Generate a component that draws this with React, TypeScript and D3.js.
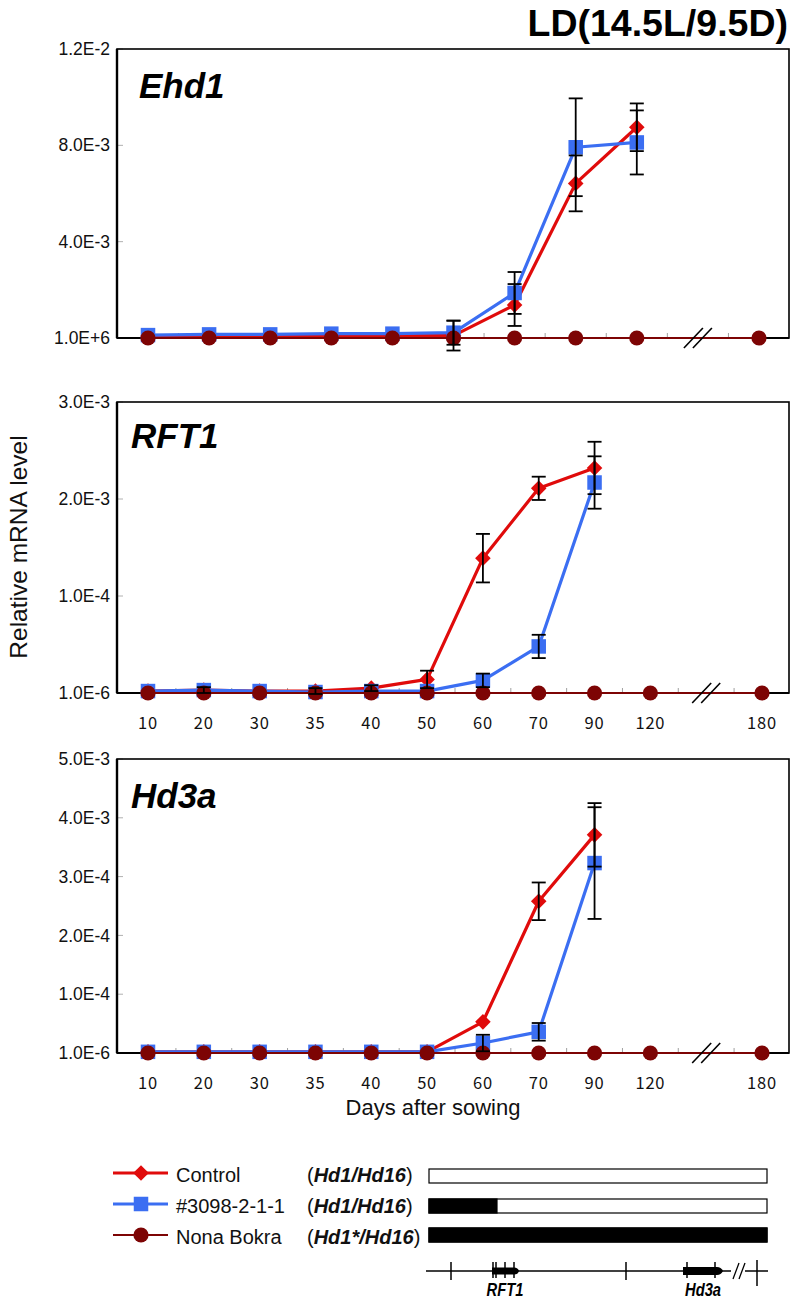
import React from "react";
import * as d3 from "d3";

// ---------- data ----------
const EHD1_SLOTS = ["10", "20", "30", "35", "40", "50", "60", "70", "90", "//", "180"];
const SLOTS = ["10", "20", "30", "35", "40", "50", "60", "70", "90", "120", "//", "180"];
const RISE_DAYS = ["10", "20", "30", "35", "40", "50", "60", "70", "90"];
const NB_DAYS_EHD1 = ["10", "20", "30", "35", "40", "50", "60", "70", "90", "180"];
const NB_DAYS = ["10", "20", "30", "35", "40", "50", "60", "70", "90", "120", "180"];

// Ehd1 (tick units: 0,4,8,12 = 1.0E+6, 4.0E-3, 8.0E-3, 1.2E-2)
const EHD1_TICKS = [0, 4, 8, 12];
const EHD1_TICK_LABELS = ["1.0E+6", "4.0E-3", "8.0E-3", "1.2E-2"];
const EHD1_CONTROL = [0.08, 0.1, 0.1, 0.1, 0.1, 0.1, 1.37, 6.42, 8.75];
const EHD1_CONTROL_ERR = [0, 0, 0, 0, 0, 0.62, 0.87, 1.16, 0.99];
const EHD1_LINE = [0.12, 0.15, 0.15, 0.18, 0.18, 0.22, 1.87, 7.92, 8.12];
const EHD1_LINE_ERR = [0, 0, 0, 0, 0, 0.5, 0.87, 2.03, 1.33];
const EHD1_NB = [0, 0, 0, 0, 0, 0, 0, 0, 0, 0];

// RFT1 (tick units: 0..3 = 1.0E-6, 1.0E-4, 2.0E-3, 3.0E-3)
const RFT1_TICKS = [0, 1, 2, 3];
const RFT1_TICK_LABELS = ["1.0E-6", "1.0E-4", "2.0E-3", "3.0E-3"];
const RFT1_CONTROL = [0.02, 0.03, 0.02, 0.02, 0.05, 0.14, 1.39, 2.11, 2.32];
const RFT1_CONTROL_ERR = [0, 0.03, 0, 0.03, 0.03, 0.09, 0.25, 0.12, 0.27];
const RFT1_LINE = [0.02, 0.03, 0.02, 0.01, 0.02, 0.02, 0.13, 0.48, 2.17];
const RFT1_LINE_ERR = [0, 0, 0, 0, 0, 0, 0.07, 0.12, 0.27];
const RFT1_NB = [0, 0, 0, 0, 0, 0, 0, 0, 0, 0, 0];

// Hd3a (tick units: 0..5 = 1.0E-6, 1.0E-4, 2.0E-4, 3.0E-4, 4.0E-3, 5.0E-3)
const HD3A_TICKS = [0, 1, 2, 3, 4, 5];
const HD3A_TICK_LABELS = ["1.0E-6", "1.0E-4", "2.0E-4", "3.0E-4", "4.0E-3", "5.0E-3"];
const HD3A_CONTROL = [0.02, 0.02, 0.02, 0.02, 0.02, 0.02, 0.53, 2.58, 3.71];
const HD3A_CONTROL_ERR = [0, 0, 0, 0, 0, 0, 0, 0.32, 0.54];
const HD3A_LINE = [0.02, 0.02, 0.02, 0.02, 0.02, 0.02, 0.17, 0.36, 3.23];
const HD3A_LINE_ERR = [0, 0, 0, 0, 0, 0, 0.14, 0.15, 0.95];
const HD3A_NB = [0, 0, 0, 0, 0, 0, 0, 0, 0, 0, 0];

const LEGEND_NAMES = ["Control", "#3098-2-1-1", "Nona Bokra"];
const LEGEND_GENO = ["Hd1/Hd16", "Hd1/Hd16", "Hd1*/Hd16"];

// ---------- style ----------
const RED = "#e00b0b";
const BLUE = "#3b6ef2";
const DARK = "#7d0404";
const SANS = "'Liberation Sans', Arial, sans-serif";
const TICKFONT = "'Noto Sans CJK JP', 'Noto Sans', sans-serif";

type Series = {
  days: string[];
  values: number[];
  errors?: number[];
  color: string;
  width: number;
  marker: "diamond" | "square" | "circle";
};

function Marker({ kind, cx, cy, color }: { kind: string; cx: number; cy: number; color: string }) {
  if (kind === "diamond") {
    const r = 7.8;
    return <path d={`M${cx},${cy - r}L${cx + r},${cy}L${cx},${cy + r}L${cx - r},${cy}Z`} fill={color} />;
  }
  if (kind === "square") {
    const s = 14.5;
    return <rect x={cx - s / 2} y={cy - s / 2} width={s} height={s} fill={color} />;
  }
  return <circle cx={cx} cy={cy} r={7.6} fill={color} />;
}

type PanelCfg = {
  top: number;
  bottom: number;
  left: number;
  right: number;
  slots: string[];
  xRange: [number, number];
  yMax: number;
  ticks: number[];
  tickLabels: string[];
  showXLabels: boolean;
  title: string;
  titleX: number;
  titleY: number;
  series: Series[];
};

function Panel({ cfg }: { cfg: PanelCfg }) {
  const x = d3.scalePoint<string>().domain(cfg.slots).range(cfg.xRange);
  const y = d3.scaleLinear().domain([0, cfg.yMax]).range([cfg.bottom, cfg.top]);
  const line = d3
    .line<[string, number]>()
    .x((d) => x(d[0]) as number)
    .y((d) => y(d[1]));
  const mids: number[] = [];
  for (let i = 0; i < cfg.slots.length - 1; i++) {
    mids.push(((x(cfg.slots[i]) as number) + (x(cfg.slots[i + 1]) as number)) / 2);
  }
  const bx = x("//") as number;
  return (
    <g>
      {cfg.ticks.map((t, i) => (
        <g key={"yt" + i}>
          <line x1={cfg.left} x2={cfg.left + 6} y1={y(t)} y2={y(t)} stroke="#b0b0b0" strokeWidth={1} />
          <text
            x={cfg.left - 7}
            y={y(t)}
            dy="0.35em"
            textAnchor="end"
            fontFamily={SANS}
            fontSize={17.5}
            fill="#111"
          >
            {cfg.tickLabels[i]}
          </text>
        </g>
      ))}
      {mids.map((m, i) => (
        <line key={"xt" + i} x1={m} x2={m} y1={cfg.bottom} y2={cfg.bottom - 5} stroke="#a0a0a0" strokeWidth={1} />
      ))}
      <rect
        x={cfg.left}
        y={cfg.top}
        width={cfg.right - cfg.left}
        height={cfg.bottom - cfg.top}
        fill="none"
        stroke="#000"
        strokeWidth={1.6}
      />
      <line x1={cfg.left} x2={cfg.left} y1={cfg.top} y2={cfg.bottom} stroke="#000" strokeWidth={2.4} />
      <line x1={cfg.left} x2={cfg.right} y1={cfg.bottom} y2={cfg.bottom} stroke="#000" strokeWidth={2.2} />
      <text
        x={cfg.titleX}
        y={cfg.titleY}
        fontFamily={SANS}
        fontWeight="bold"
        fontStyle="italic"
        fontSize={35}
        fill="#000"
      >
        {cfg.title}
      </text>
      {cfg.series.map((s, si) => {
        const pts = s.days.map((d, i) => [d, s.values[i]] as [string, number]);
        return (
          <g key={"s" + si}>
            <path d={line(pts) as string} fill="none" stroke={s.color} strokeWidth={s.width} strokeLinejoin="round" />
            {pts.map((p, i) => (
              <Marker key={i} kind={s.marker} cx={x(p[0]) as number} cy={y(p[1])} color={s.color} />
            ))}
          </g>
        );
      })}
      {cfg.series.map((s, si) =>
        (s.errors || []).map((e, i) => {
          if (!e) return null;
          const cx = x(s.days[i]) as number;
          const y1 = y(s.values[i] + e);
          const y2 = y(s.values[i] - e);
          return (
            <g key={"e" + si + "-" + i} stroke="#000" strokeWidth={1.8}>
              <line x1={cx} x2={cx} y1={y1} y2={y2} />
              <line x1={cx - 7} x2={cx + 7} y1={y1} y2={y1} />
              <line x1={cx - 7} x2={cx + 7} y1={y2} y2={y2} />
            </g>
          );
        })
      )}
      <g stroke="#000" strokeWidth={1.6}>
        <line x1={bx - 14} x2={bx + 5} y1={cfg.bottom + 10} y2={cfg.bottom - 10} />
        <line x1={bx - 5} x2={bx + 14} y1={cfg.bottom + 10} y2={cfg.bottom - 10} />
      </g>
      {cfg.showXLabels &&
        cfg.slots
          .filter((s) => s !== "//")
          .map((s) => (
            <text
              key={"xl" + s}
              x={x(s) as number}
              y={cfg.bottom + 36}
              textAnchor="middle"
              fontFamily={TICKFONT}
              fontSize={16.5}
              letterSpacing={0.8}
              fill="#111"
            >
              {s}
            </text>
          ))}
    </g>
  );
}

export default function App() {
  const mk = (c: number[], ce: number[], l: number[], le: number[], nbDays: string[], nb: number[]): Series[] => [
    { days: RISE_DAYS, values: c, errors: ce, color: RED, width: 3.2, marker: "diamond" },
    { days: RISE_DAYS, values: l, errors: le, color: BLUE, width: 3.2, marker: "square" },
    { days: nbDays, values: nb, color: DARK, width: 2, marker: "circle" },
  ];
  const panels: PanelCfg[] = [
    {
      top: 49, bottom: 338, left: 117, right: 789,
      slots: EHD1_SLOTS, xRange: [148, 759], yMax: 12,
      ticks: EHD1_TICKS, tickLabels: EHD1_TICK_LABELS, showXLabels: false,
      title: "Ehd1", titleX: 139, titleY: 98,
      series: mk(EHD1_CONTROL, EHD1_CONTROL_ERR, EHD1_LINE, EHD1_LINE_ERR, NB_DAYS_EHD1, EHD1_NB),
    },
    {
      top: 402, bottom: 693, left: 117, right: 789,
      slots: SLOTS, xRange: [148, 762], yMax: 3,
      ticks: RFT1_TICKS, tickLabels: RFT1_TICK_LABELS, showXLabels: true,
      title: "RFT1", titleX: 131, titleY: 448,
      series: mk(RFT1_CONTROL, RFT1_CONTROL_ERR, RFT1_LINE, RFT1_LINE_ERR, NB_DAYS, RFT1_NB),
    },
    {
      top: 759, bottom: 1053, left: 117, right: 789,
      slots: SLOTS, xRange: [148, 762], yMax: 5,
      ticks: HD3A_TICKS, tickLabels: HD3A_TICK_LABELS, showXLabels: true,
      title: "Hd3a", titleX: 131, titleY: 808,
      series: mk(HD3A_CONTROL, HD3A_CONTROL_ERR, HD3A_LINE, HD3A_LINE_ERR, NB_DAYS, HD3A_NB),
    },
  ];

  const legendColors = [RED, BLUE, DARK];
  const legendMarkers = ["diamond", "square", "circle"];
  const legendY = [1173, 1204, 1235];
  const barY = [1169, 1199, 1228];
  const barX0 = 429;
  const barX1 = 767;
  const barBlack = [0, 497 - barX0, barX1 - barX0];

  return (
    <svg
      width={799}
      height={1306}
      style={{ position: "absolute", left: 0, top: 0, background: "#fff" }}
    >
      <rect x={0} y={0} width={799} height={1306} fill="#fff" />
      <text x={788} y={36} textAnchor="end" fontFamily={SANS} fontWeight="bold" fontSize={37.5} fill="#000">
        LD(14.5L/9.5D)
      </text>
      {panels.map((p, i) => (
        <Panel key={i} cfg={p} />
      ))}
      <text
        transform="translate(27,547) rotate(-90)"
        textAnchor="middle"
        fontFamily={SANS}
        fontSize={24.5}
        fill="#111"
      >
        Relative mRNA level
      </text>
      <text x={433} y={1115} textAnchor="middle" fontFamily={SANS} fontSize={22} fill="#111">
        Days after sowing
      </text>

      {LEGEND_NAMES.map((n, i) => (
        <g key={"lg" + i}>
          <line x1={113} x2={168} y1={legendY[i]} y2={legendY[i]} stroke={legendColors[i]} strokeWidth={i === 2 ? 2 : 3.2} />
          <Marker kind={legendMarkers[i]} cx={141} cy={legendY[i]} color={legendColors[i]} />
          <text x={176} y={legendY[i] + 9} fontFamily={SANS} fontSize={20} fill="#111">
            {n}
          </text>
          <text x={307} y={legendY[i] + 9} fontFamily={SANS} fontSize={20} fill="#111">
            (
            <tspan fontWeight="bold" fontStyle="italic">
              {LEGEND_GENO[i]}
            </tspan>
            )
          </text>
          <rect x={barX0} y={barY[i]} width={barX1 - barX0} height={14} fill="#fff" stroke="#000" strokeWidth={1.2} />
          {barBlack[i] > 0 && <rect x={barX0} y={barY[i]} width={barBlack[i]} height={14} fill="#000" stroke="#000" strokeWidth={1.2} />}
        </g>
      ))}

      <g stroke="#000" strokeWidth={1.5}>
        <line x1={426} x2={768} y1={1271} y2={1271} />
        <line x1={451} x2={451} y1={1262} y2={1280} />
        <line x1={626} x2={626} y1={1262} y2={1280} />
        <line x1={757} x2={757} y1={1260} y2={1286} />
        <line x1={493} x2={493} y1={1262} y2={1278} />
        <line x1={496} x2={496} y1={1262} y2={1278} />
        <line x1={505} x2={505} y1={1262} y2={1278} />
        <line x1={514} x2={514} y1={1262} y2={1278} />
        <line x1={687} x2={687} y1={1262} y2={1278} />
        <line x1={715} x2={715} y1={1262} y2={1278} />
      </g>
      <rect x={731} y={1266} width={14} height={10} fill="#fff" />
      <g stroke="#000" strokeWidth={1.3}>
        <line x1={733} x2={739} y1={1279} y2={1263} />
        <line x1={739} x2={745} y1={1279} y2={1263} />
      </g>
      <path d="M492,1267.5 L514,1267.5 Q518,1267.5 519,1271 Q518,1274.5 514,1274.5 L492,1274.5 Z" fill="#000" />
      <path d="M683,1267 L717,1267 Q721,1267 723,1271 Q721,1275 717,1275 L683,1275 Z" fill="#000" />
      <text
        transform="translate(505,1296) scale(0.82,1)"
        textAnchor="middle"
        fontFamily={SANS}
        fontWeight="bold"
        fontStyle="italic"
        fontSize={18}
        fill="#000"
      >
        RFT1
      </text>
      <text
        transform="translate(703,1296) scale(0.82,1)"
        textAnchor="middle"
        fontFamily={SANS}
        fontWeight="bold"
        fontStyle="italic"
        fontSize={18}
        fill="#000"
      >
        Hd3a
      </text>
    </svg>
  );
}
